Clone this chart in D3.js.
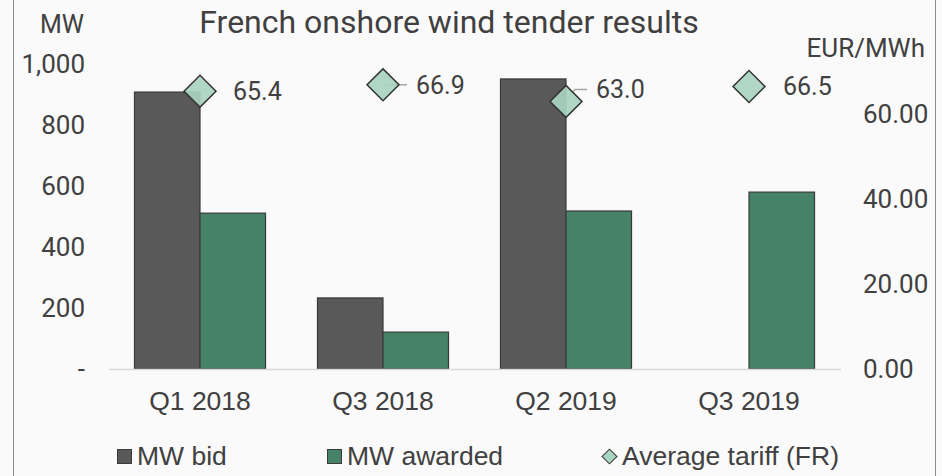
<!DOCTYPE html>
<html>
<head>
<meta charset="utf-8">
<script src="https://cdn.jsdelivr.net/npm/d3@7"></script>
<style>
  body { margin: 0; background: #fafafa; }
  text { fill: #404040; }
</style>
</head>
<body>
<div id="chart"></div>
<script>
// data
const categories = ["Q1 2018", "Q3 2018", "Q2 2019", "Q3 2019"];
const seriesNames = ["MW bid", "MW awarded"];
const mwBid = [908, 233, 951, 0];
const mwAwarded = [511, 121, 518, 580];
const tariff = [65.4, 66.9, 63.0, 66.5];
const leftTicks = [0, 200, 400, 600, 800, 1000];
const rightTicks = [0, 20, 40, 60];

const width = 942, height = 476;
const colors = { "MW bid": "#595959", "MW awarded": "#458268" };
const diamondFill = "#a9d4c1";

const svg = d3.select("#chart")
    .append("svg")
    .attr("width", width)
    .attr("height", height);

svg.append("rect")
    .attr("width", width)
    .attr("height", height)
    .attr("fill", "#fafafa");

// frame sides
svg.append("line").attr("x1", 13.5).attr("x2", 13.5).attr("y1", 0).attr("y2", height)
    .attr("stroke", "#8c8c8c");
svg.append("line").attr("x1", 935.5).attr("x2", 935.5).attr("y1", 0).attr("y2", height)
    .attr("stroke", "#8c8c8c");

const x0 = d3.scaleBand()
    .domain(categories)
    .range([108.5, 840.5])
    .paddingInner(0.284)
    .paddingOuter(0.142);

const x1 = d3.scaleBand()
    .domain(seriesNames)
    .range([0, x0.bandwidth()]);

const y = d3.scaleLinear().domain([0, 1000]).range([369, 64]);
const yR = d3.scaleLinear().domain([0, 71.8]).range([369, 64]);

// title
svg.append("text")
    .attr("x", 449)
    .attr("y", 33)
    .attr("text-anchor", "middle")
    .style("font-family", "Roboto")
    .style("font-size", "32px")
    .text("French onshore wind tender results");

// left axis
const leftAxis = d3.axisLeft(y)
    .tickValues(leftTicks)
    .tickSize(0)
    .tickPadding(0)
    .tickFormat(d => d === 0 ? "-" : d3.format(",")(d));

svg.append("g")
    .attr("transform", "translate(85,0)")
    .call(leftAxis)
    .call(g => g.select(".domain").remove())
    .selectAll("text")
    .style("font-family", "Roboto")
    .style("font-size", "26px")
    .attr("fill", "#404040");

svg.append("text")
    .attr("x", 84).attr("y", 33)
    .attr("text-anchor", "end")
    .style("font-family", "Roboto")
    .style("font-size", "25px")
    .text("MW");

// right axis
const rightAxis = d3.axisRight(yR)
    .tickValues(rightTicks)
    .tickSize(0)
    .tickPadding(0)
    .tickFormat(d3.format(".2f"));

svg.append("g")
    .attr("transform", "translate(863,0)")
    .call(rightAxis)
    .call(g => g.select(".domain").remove())
    .selectAll("text")
    .style("font-family", "Roboto")
    .style("font-size", "26px")
    .attr("fill", "#404040");

svg.append("text")
    .attr("x", 925).attr("y", 57)
    .attr("text-anchor", "end")
    .style("font-family", "Roboto")
    .style("font-size", "26px")
    .text("EUR/MWh");

// bars
const rows = categories.map((c, i) => ({ cat: c, values: [
    { name: "MW bid", value: mwBid[i] },
    { name: "MW awarded", value: mwAwarded[i] }
]}));

const groups = svg.append("g").attr("id", "bars")
    .selectAll("g")
    .data(rows)
    .enter()
    .append("g")
    .attr("transform", d => "translate(" + x0(d.cat) + ",0)");

groups.selectAll("rect")
    .data(d => d.values.filter(v => v.value > 0))
    .enter()
    .append("rect")
    .attr("x", d => x1(d.name))
    .attr("y", d => y(d.value))
    .attr("width", x1.bandwidth())
    .attr("height", d => y(0) - y(d.value))
    .attr("fill", d => colors[d.name])
    .attr("stroke", "#3a3a3a")
    .attr("stroke-width", 1.2);

// x axis
const xAxis = d3.axisBottom(x0).tickSize(0).tickPadding(22);
svg.append("g")
    .attr("transform", "translate(0," + y(0) + ")")
    .call(xAxis)
    .call(g => g.select(".domain").attr("stroke", "#d9d9d9").attr("stroke-width", 1.5))
    .selectAll("text")
    .style("font-family", "Liberation Sans")
    .style("font-size", "26.5px")
    .attr("fill", "#404040");

// tariff diamonds with labels
const diamond = d3.symbol().type(d3.symbolSquare).size(512);
const labelShift = [[33, 0], [33, 0], [30, -12], [34, 0]];
const hasLeader = [false, true, true, false];

const pts = svg.append("g").attr("id", "tariff");

tariff.forEach((t, i) => {
    const cx = x0(categories[i]) + x0.bandwidth() / 2;
    const cy = yR(t);
    const lx = cx + labelShift[i][0];
    const ly = cy + labelShift[i][1];
    if (hasLeader[i]) {
        const pts2 = labelShift[i][1] === 0
            ? [[cx, cy], [lx - 9, ly]]
            : [[cx, cy], [cx + 9, ly], [lx - 9, ly]];
        pts.append("path")
            .attr("d", d3.line()(pts2))
            .attr("fill", "none")
            .attr("stroke", "#a6a6a6")
            .attr("stroke-width", 1.5);
    }
    pts.append("path")
        .attr("d", diamond())
        .attr("transform", "translate(" + cx + "," + cy + ") rotate(45)")
        .attr("fill", diamondFill)
        .attr("fill-opacity", 0.92)
        .attr("stroke", "#333")
        .attr("stroke-width", 1.5);
    pts.append("text")
        .attr("x", lx)
        .attr("y", ly)
        .attr("dy", "0.35em")
        .style("font-family", "Roboto")
        .style("font-size", "25px")
        .text(d3.format(".1f")(t));
});

// legend
const legend = svg.append("g").attr("id", "legend");
const legendItems = [
    { name: "MW bid", x: 117, type: "square" },
    { name: "MW awarded", x: 327, type: "square" },
    { name: "Average tariff (FR)", x: 602, type: "diamond" }
];
legendItems.forEach(it => {
    if (it.type === "square") {
        legend.append("rect")
            .attr("x", it.x + 0.5).attr("y", 449.5)
            .attr("width", 14).attr("height", 14)
            .attr("fill", colors[it.name])
            .attr("stroke", "#3a3a3a");
    } else {
        legend.append("path")
            .attr("d", d3.symbol().type(d3.symbolSquare).size(110)())
            .attr("transform", "translate(" + (it.x + 7.5) + ",456.5) rotate(45)")
            .attr("fill", diamondFill)
            .attr("stroke", "#333");
    }
    legend.append("text")
        .attr("x", it.x + 20)
        .attr("y", 465)
        .style("font-family", "Liberation Sans")
        .style("font-size", "26.5px")
        .text(it.name);
});
</script>
</body>
</html>
